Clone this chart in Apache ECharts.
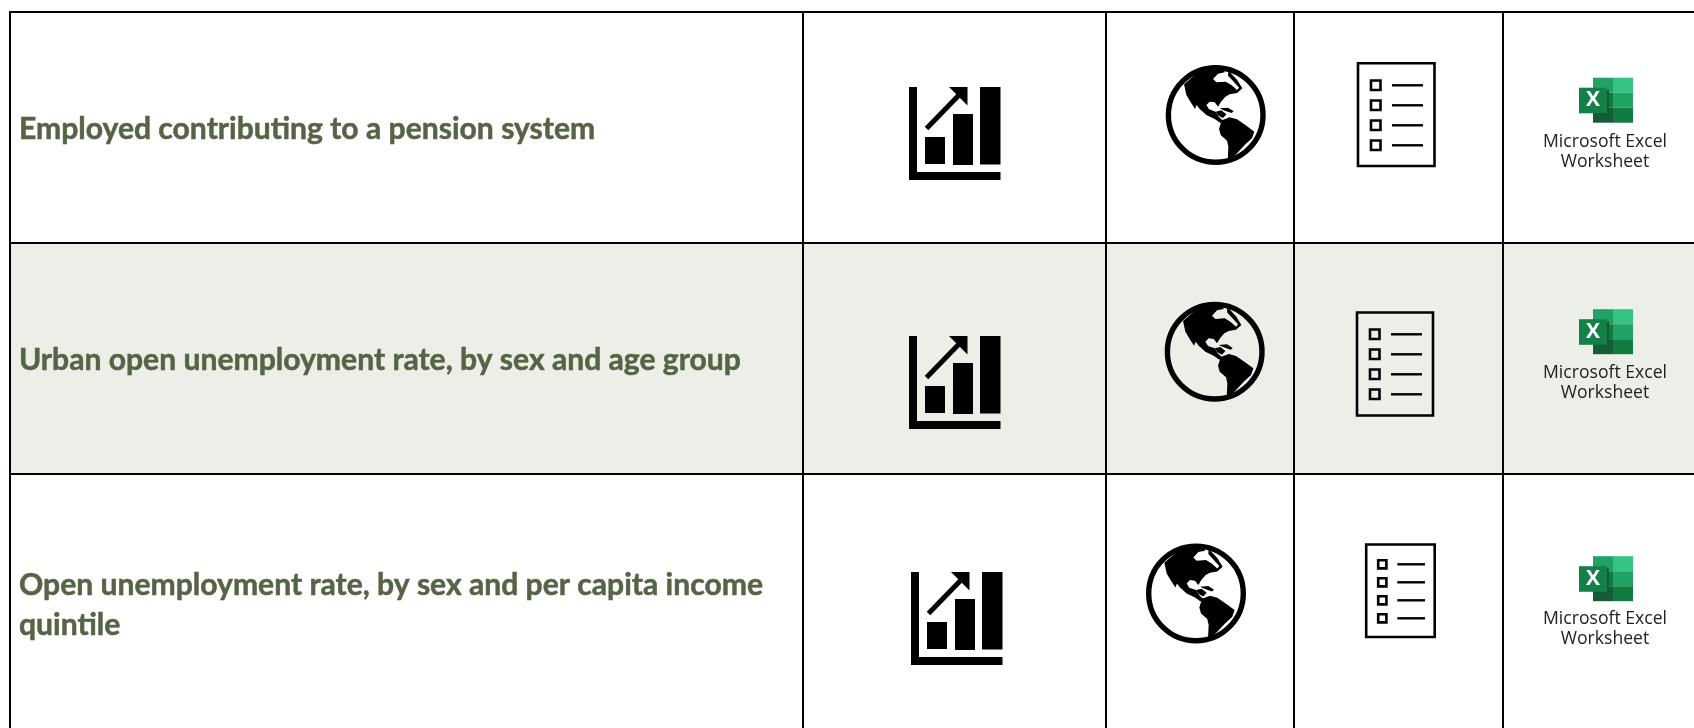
<!DOCTYPE html>
<html><head><meta charset="utf-8">
<style>html,body{margin:0;padding:0;background:#fff}#c{width:1694px;height:728px}</style>
<script src="https://cdn.jsdelivr.net/npm/echarts@6/dist/echarts.min.js"></script>
</head><body><div id="c"></div>
<script>
// content
const rowLabels = [
  ["Employed contributing to a pension system"],
  ["Urban open unemployment rate, by sex and age group"],
  ["Open unemployment rate, by sex and per capita income", "quintile"]
];
const excelLabel = ["Microsoft Excel", "Worksheet"];
// layout (page pixels)
const rowEdges = [12, 243, 474];
const colEdges = [10, 803, 1106, 1294, 1503];
const labelY = [129, 360, 585];
const chartOffset = [[0,0],[0,249],[2,485]];
const globeCentre = [[1215.7,115],[1214.7,351.7],[1196,593.4]];
// frame x, y, w, h, box x, box size, line x1, line x2, first line y, line step
const listLayout = [
  [1358,63.2,76.5,102.8,1371,9.5,1392,1423,85.3,20],
  [1357,312.5,76,103,1370,9.5,1391,1422,334.3,20],
  [1366.2,544.5,68.5,92.5,1378.2,8.2,1397.3,1425,564.3,18]
];
const excelDy = [0,231.5,478.5];
const excelTextY = [141.5,372.5,618.5];
const colours = {ink:"#000", label:"#566345", band:"#ECEFE8"};

// glyph outlines, traced with a centre at (198,190) and a radius of 150, scaled by 1/3
const globeCentreTrace = [198,190];
const globeLand = [
 [[103,98],[110,130],[123,152],[136,172],[141,160],[150,172],[170,190],[195,202],[212,214],[220,207],[207,195],[198,180],[178,173],[170,160],[180,150],[195,152],[205,165],[214,150],[227,135],[240,128],[262,124],[278,110],[262,84],[245,66],[236,56],[235,72],[250,88],[268,108],[262,115],[245,100],[228,90],[200,92],[190,82],[205,66],[225,62],[222,50],[180,50],[140,66]],
 [[208,232],[216,206],[240,197],[262,203],[287,220],[314,240],[307,260],[285,280],[262,305],[238,327],[234,327],[236,285],[232,267],[213,250]],
 [[210,170],[235,168],[252,179],[246,184],[225,177]],
 [[198,180],[215,176],[230,188],[220,199],[206,192]]
];

function renderRow(params, api) {
  const i = api.value(0);
  const P = (x,y) => api.coord([x,y]);
  const kids = [];
  const rect = (x,y,w,h,fill) => { const a=P(x,y); kids.push({type:'rect',shape:{x:a[0],y:a[1],width:w,height:h},style:{fill}}); };
  const poly = (pts,fill) => kids.push({type:'polygon',shape:{points:pts.map(p=>P(p[0],p[1]))},style:{fill}});
  const line = (x1,y1,x2,y2,w,col) => { const a=P(x1,y1),b=P(x2,y2); kids.push({type:'line',shape:{x1:a[0],y1:a[1],x2:b[0],y2:b[1]},style:{stroke:col||colours.ink,lineWidth:w}}); };
  const text = (t,x,y,font,fill,align,stroke) => { const a=P(x,y); const style={text:t,x:a[0],y:a[1],font,fill,textAlign:align||'left',textVerticalAlign:'middle'}; if(stroke){style.stroke=fill;style.lineWidth=stroke;} kids.push({type:'text',style}); };
  const frame = (x,y,w,h,lw) => { const a=P(x,y); kids.push({type:'rect',shape:{x:a[0],y:a[1],width:w,height:h},style:{fill:'none',stroke:colours.ink,lineWidth:lw}}); };

  // row band
  if (i===1) rect(colEdges[0],rowEdges[1],1694-colEdges[0],rowEdges[2]-rowEdges[1],colours.band);

  // label
  rowLabels[i].forEach((t,k)=>text(t,19,labelY[i]+k*40,"bold 30.1px Lato",colours.label,'left',0.5));

  // chart icon
  const [cx,cy]=chartOffset[i];
  rect(909+cx,87+cy,8,93,colours.ink);
  rect(909+cx,172+cy,91.5,8,colours.ink);
  rect(925+cx,137+cy,20,27,colours.ink);
  rect(953+cx,114+cy,20,51,colours.ink);
  rect(980+cx,87+cy,20.5,77.5,colours.ink);
  line(926.5+cx,128.5+cy,961+cx,93+cy,5);
  poly([[949+cx,87+cy],[967.5+cx,87+cy],[967.5+cx,105.5+cy]],colours.ink);

  // globe
  const [gx,gy]=globeCentre[i];
  const g=P(gx,gy);
  kids.push({type:'circle',shape:{cx:g[0],cy:g[1],r:47.3},style:{fill:'none',stroke:colours.ink,lineWidth:5.4}});
  globeLand.forEach(land=>poly(land.map(p=>[gx+(p[0]-globeCentreTrace[0])/3,gy+(p[1]-globeCentreTrace[1])/3]),colours.ink));

  // checklist icon
  const [lx,ly,lw,lh,bx,bs,x1,x2,y0,step]=listLayout[i];
  frame(lx,ly,lw,lh,2.6);
  for(let k=0;k<4;k++){
    const y=y0+k*step;
    frame(bx,y-bs/2,bs,bs,2.6);
    line(x1,y,x2,y,2.4);
  }

  // spreadsheet icon
  const d=excelDy[i];
  const cells=[[1593,77.7,20,15,"#21A366"],[1613,77.7,20,15,"#33C481"],[1593,92.7,20,15,"#107C41"],[1613,92.7,20,15,"#21A366"],[1593,107.7,20,15,"#185C37"],[1613,107.7,20,15,"#107C41"]];
  cells.forEach(c=>rect(c[0],c[1]+d,c[2],c[3],c[4]));
  rect(1593,90+d,16,25,"#0E5C33");
  rect(1579,87.7+d,28,25.6,"#138048");
  text("X",1593,100.5+d,"bold 21px 'Open Sans'","#fff",'center');
  excelLabel.forEach((t,k)=>text(t,1605,excelTextY[i]+k*20.5,"17.6px 'Open Sans'","#222",'center'));

  return {type:'group',children:kids};
}

function renderRules(params, api) {
  const P=(x,y)=>api.coord([x,y]);
  const kids=[];
  rowEdges.forEach(y=>{const a=P(colEdges[0]-1,y),b=P(1694,y);kids.push({type:'line',shape:{x1:a[0],y1:a[1],x2:b[0],y2:b[1]},style:{stroke:'#000',lineWidth:2}});});
  colEdges.forEach(x=>{const a=P(x,11),b=P(x,728);kids.push({type:'line',shape:{x1:a[0],y1:a[1],x2:b[0],y2:b[1]},style:{stroke:'#000',lineWidth:2}});});
  return {type:'group',children:kids};
}

const chart=echarts.init(document.getElementById('c'),null,{renderer:'canvas'});
chart.setOption({
  animation:false,
  backgroundColor:'#fff',
  grid:{left:0,right:0,top:0,bottom:0},
  xAxis:{type:'value',min:0,max:1694,show:false},
  yAxis:{type:'value',min:0,max:728,inverse:true,show:false},
  series:[
    {type:'custom',renderItem:renderRow,data:rowLabels.map((r,i)=>[i]),encode:{x:0},clip:false,silent:true,z:1},
    {type:'custom',renderItem:renderRules,data:[[0]],encode:{x:0},clip:false,silent:true,z:2}
  ]
});
</script></body></html>
